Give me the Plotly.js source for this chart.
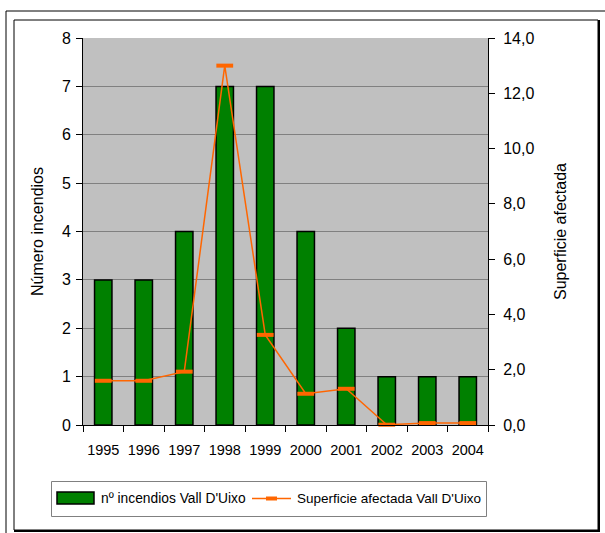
<!DOCTYPE html>
<html>
<head>
<meta charset="utf-8">
<script src="https://cdn.plot.ly/plotly-3.0.1.min.js"></script>
<style>html,body{margin:0;padding:0;background:#fff;}#chart{width:605px;height:533px;}</style>
</head>
<body>
<div id="chart"></div>
<script>
var years = ['1995','1996','1997','1998','1999','2000','2001','2002','2003','2004'];
var incendios = [3, 3, 4, 7, 7, 4, 2, 1, 1, 1];
var superficie = [1.6, 1.6, 1.93, 13.0, 3.26, 1.13, 1.31, 0.01, 0.07, 0.07];
var seriesNames = ['nº incendios Vall D\'Uixo', 'Superficie afectada Vall D\'Uixo'];

var L = 83, R = 488, T = 38, B = 425;
function px(x){ return (x - L) / (R - L); }
function py(y){ return (B - y) / (B - T); }

var FAM = 'Liberation Sans, Arial, sans-serif';
var fnt = {family: FAM, size: 16, color: '#000'};

var traces = [
  {
    type: 'bar', x: years, y: incendios, name: seriesNames[0],
    marker: {color: '#008000', line: {color: '#000000', width: 1.5}},
    yaxis: 'y', showlegend: false
  },
  {
    type: 'scatter', mode: 'lines+markers', x: years, y: superficie,
    name: seriesNames[1], yaxis: 'y2', showlegend: false, cliponaxis: false,
    line: {color: '#FF6600', width: 1.5},
    marker: {symbol: 'line-ew', size: 12, color: '#FF6600', line: {color: '#FF6600', width: 4}}
  }
];

var layout = {
  width: 605, height: 533,
  margin: {l: L, r: 605 - R, t: T, b: 533 - B, pad: 0},
  paper_bgcolor: '#ffffff',
  plot_bgcolor: '#C0C0C0',
  separators: ',.',
  font: fnt,
  bargap: 0.57,
  showlegend: false,
  xaxis: {
    type: 'category', range: [-0.5, 9.5], tickson: 'boundaries', ticks: 'outside', ticklen: 6,
    tickcolor: '#000', showline: true, linecolor: '#000', linewidth: 1,
    tickangle: 0, automargin: false, ticklabelstandoff: 12,
    tickfont: {family: FAM, size: 14.5, color: '#000'},
    showgrid: false
  },
  yaxis: {
    range: [0, 8], dtick: 1, ticks: 'outside', ticklen: 6, tickcolor: '#000',
    showline: true, linecolor: '#000', linewidth: 1, automargin: false, ticklabelstandoff: 2,
    gridcolor: '#808080', gridwidth: 1, zeroline: false,
    title: {text: 'Número incendios', font: fnt, standoff: 14},
    tickfont: fnt
  },
  yaxis2: {
    overlaying: 'y', side: 'right', range: [0, 14], dtick: 2, tickformat: '.1f',
    ticks: 'outside', ticklen: 6, tickcolor: '#000', automargin: false, ticklabelstandoff: 5,
    showline: true, linecolor: '#000', linewidth: 1, showgrid: false, zeroline: false,
    title: {text: 'Superficie afectada', font: fnt, standoff: 21},
    tickfont: fnt
  },
  shapes: [
    {type: 'rect', xref: 'paper', yref: 'paper', x0: px(6), x1: px(612), y0: py(11), y1: py(540),
     line: {color: '#000', width: 1}, layer: 'below'},
    {type: 'rect', xref: 'paper', yref: 'paper', x0: px(14), x1: px(598), y0: py(20), y1: py(530),
     line: {color: '#000', width: 1}, layer: 'below'},
    {type: 'line', xref: 'paper', yref: 'paper', x0: px(599), x1: px(599), y0: py(20), y1: py(531),
     line: {color: '#000', width: 2}},
    {type: 'line', xref: 'paper', yref: 'paper', x0: px(14), x1: px(600), y0: py(531), y1: py(531),
     line: {color: '#000', width: 2}},
    // legend box
    {type: 'rect', xref: 'paper', yref: 'paper', x0: px(51.5), x1: px(486.5), y0: py(481.5), y1: py(516.5),
     line: {color: '#808080', width: 1}, fillcolor: '#ffffff'},
    // legend bar swatch
    {type: 'rect', xref: 'paper', yref: 'paper', x0: px(57), x1: px(94), y0: py(492), y1: py(504),
     line: {color: '#000', width: 1.5}, fillcolor: '#008000'},
    // legend line swatch
    {type: 'line', xref: 'paper', yref: 'paper', x0: px(252), x1: px(291), y0: py(498.5), y1: py(498.5),
     line: {color: '#FF6600', width: 1.5}},
    {type: 'line', xref: 'paper', yref: 'paper', x0: px(266), x1: px(277), y0: py(498.5), y1: py(498.5),
     line: {color: '#FF6600', width: 4}}
  ],
  annotations: [
    {xref: 'paper', yref: 'paper', x: px(99), y: py(498.5), xanchor: 'left', yanchor: 'middle',
     text: seriesNames[0], showarrow: false, font: {family: FAM, size: 13.8, color: '#000'}},
    {xref: 'paper', yref: 'paper', x: px(295), y: py(498.5), xanchor: 'left', yanchor: 'middle',
     text: seriesNames[1], showarrow: false, font: {family: FAM, size: 13.5, color: '#000'}}
  ]
};

Plotly.newPlot('chart', traces, layout, {displayModeBar: false, staticPlot: true});
</script>
</body>
</html>
